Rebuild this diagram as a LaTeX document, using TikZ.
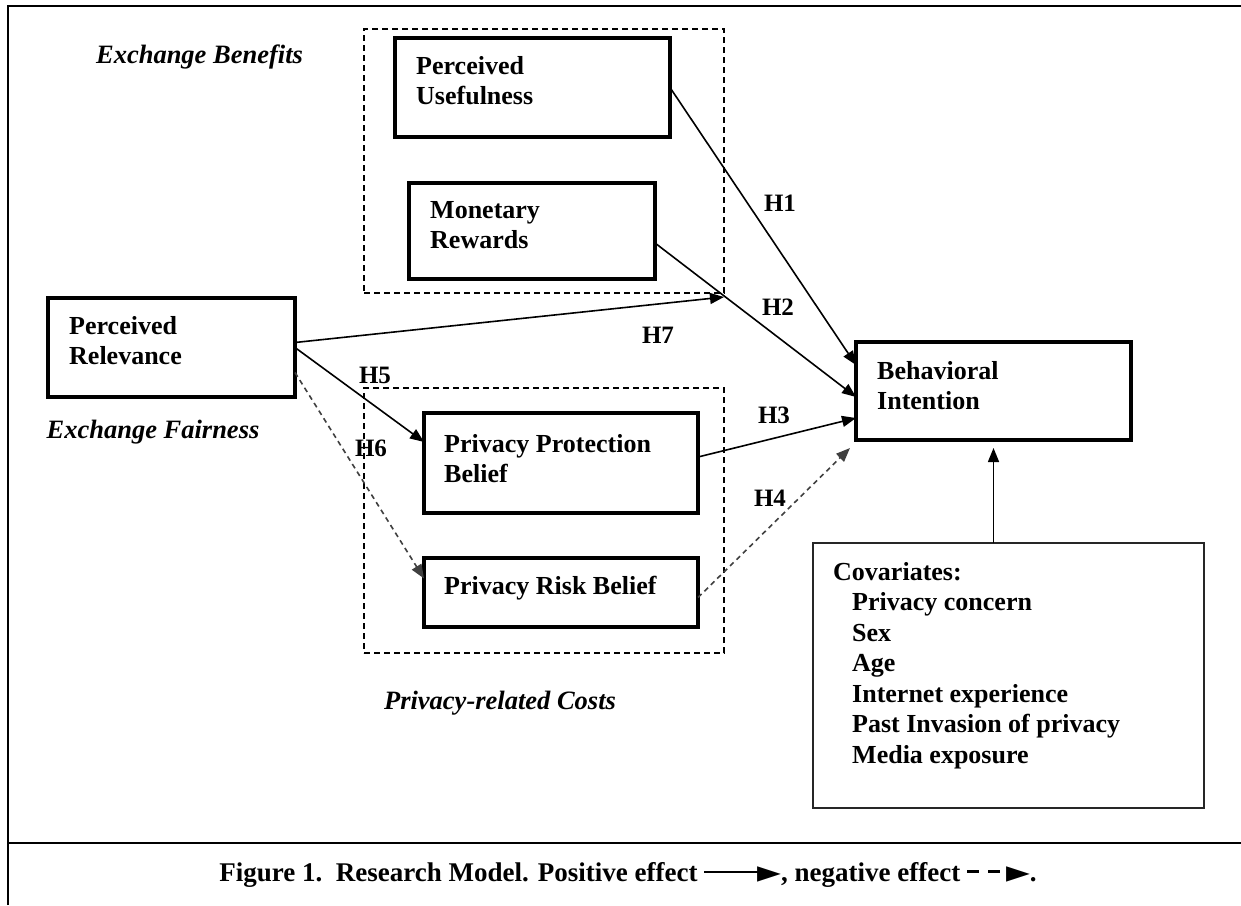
\documentclass[tikz,border=0pt]{standalone}
\usepackage{fontspec}
\setmainfont{Liberation Serif}
\newfontfamily\symfont{DejaVu Sans}
\usetikzlibrary{arrows.meta,positioning}

% legend marks for the caption
\newcommand{\legendtri}{\raisebox{-0.04em}{\symfont\fontsize{31}{31}\selectfont ►}}
\newcommand{\legendpos}{\rule[0.3em]{58pt}{2.6pt}\kern-5pt\legendtri}
\newcommand{\legendneg}{\rule[0.3em]{12pt}{3.2pt}\hspace{9pt}\rule[0.3em]{12pt}{3.2pt}\hspace{6pt}\legendtri}

\begin{document}
\begin{tikzpicture}[
    x=1pt, y=-1pt,
    % Node styles
    conbox/.style={rectangle, draw=black, line width=3.2pt, inner sep=0pt, outer sep=0pt, anchor=north west},
    covbox/.style={rectangle, draw=black!85, line width=2pt, inner sep=0pt, outer sep=0pt, anchor=north west},
    groupbox/.style={rectangle, draw=black, line width=1.6pt, dash pattern=on 6pt off 4pt, inner sep=0pt, outer sep=0pt, anchor=north west},
    boxtext/.style={inner sep=0pt, align=left, font=\bfseries\fontsize{26}{30}\selectfont},
    hlabel/.style={inner sep=0pt, font=\bfseries\fontsize{25}{25}\selectfont},
    grouplabel/.style={inner sep=0pt, font=\bfseries\itshape\fontsize{26.5}{30}\selectfont},
    captiontext/.style={inner sep=0pt, font=\bfseries\fontsize{27}{30}\selectfont},
    % Effects
    poseffect/.style={line width=1.6pt, -{Triangle[length=14pt, width=11pt]}, draw=black},
    negeffect/.style={line width=1.6pt, dash pattern=on 5pt off 4pt, -{Triangle[length=14pt, width=11pt]}, draw=black!75},
    frameline/.style={line width=2.8pt, draw=black}
]

    \fill[white] (0,0) rectangle (1241,905);
    \useasboundingbox (0,0) rectangle (1241,905);

    % =========================================================================
    % 1. FRAME AND CAPTION
    % =========================================================================
    \draw[frameline] (8,905) -- (8,6) -- (1241,6);
    \draw[frameline] (8,843) -- (1241,843);

    \node[captiontext] (caption) at (628,875)
        {Figure 1.\ \ Research Model. Positive effect \legendpos, negative effect \legendneg.};

    % =========================================================================
    % 2. GROUPS (dashed)
    % =========================================================================
    \node[groupbox, minimum width=360pt, minimum height=264pt] (eb) at (364,29) {};
    \node[groupbox, minimum width=360pt, minimum height=265pt] (pc) at (364,388) {};

    \node[grouplabel] (ebl) at (199.5,57) {Exchange Benefits};
    \node[grouplabel] (efl) at (153,432) {Exchange Fairness};
    \node[grouplabel] (pcl) at (500,703) {Privacy-related Costs};

    % =========================================================================
    % 3. CONSTRUCTS
    % =========================================================================
    \node[conbox, minimum width=275pt, minimum height=99pt] (pu) at (395,38) {};
    \node[boxtext, below right=18pt and 21pt of pu.north west] (put) {Perceived\\Usefulness};

    \node[conbox, minimum width=246pt, minimum height=96pt] (mr) at (409,183) {};
    \node[boxtext, below right=18pt and 21pt of mr.north west] (mrt) {Monetary\\Rewards};

    \node[conbox, minimum width=247pt, minimum height=99pt] (pr) at (48,298) {};
    \node[boxtext, below right=18pt and 21pt of pr.north west] (prt) {Perceived\\Relevance};

    \node[conbox, minimum width=274pt, minimum height=100pt] (ppb) at (424,413) {};
    \node[boxtext, below right=21pt and 20pt of ppb.north west] (ppbt) {Privacy Protection\\Belief};

    \node[conbox, minimum width=274pt, minimum height=69pt] (prb) at (424,558) {};
    \node[boxtext, below right=18pt and 20pt of prb.north west] (prbt) {Privacy Risk Belief};

    \node[conbox, minimum width=275pt, minimum height=98pt] (bi) at (856,342) {};
    \node[boxtext, below right=19pt and 21pt of bi.north west] (bit) {Behavioral\\Intention};

    \node[covbox, minimum width=391pt, minimum height=265pt] (cov) at (813,543) {};
    \node[boxtext, font=\bfseries\fontsize{26}{30.5}\selectfont, below right=19pt and 20pt of cov.north west] (covt)
        {Covariates:\\
         \hspace*{19pt}Privacy concern\\
         \hspace*{19pt}Sex\\
         \hspace*{19pt}Age\\
         \hspace*{19pt}Internet experience\\
         \hspace*{19pt}Past Invasion of privacy\\
         \hspace*{19pt}Media exposure};

    % =========================================================================
    % 4. HYPOTHESES
    % =========================================================================
    \draw[poseffect] (pu.east) -- ([yshift=-23pt]bi.north west);
    \draw[poseffect] ([yshift=-12pt]mr.east) -- ([yshift=-6pt]bi.west);
    \draw[poseffect] ([yshift=6pt]ppb.east) -- ([yshift=-27pt]bi.west);
    \draw[negeffect] ([yshift=-5pt]prb.east) -- ([xshift=-6pt,yshift=-8pt]bi.south west);
    \draw[poseffect] (pr.east) -- ([yshift=21pt]ppb.west);
    \draw[negeffect] ([yshift=-25pt]pr.east) -- ([yshift=14pt]prb.west);
    \draw[poseffect] ([yshift=5pt]pr.east) -- ([yshift=-4pt]eb.south east);
    \draw[poseffect, shorten >=8pt] (cov.north -| bi.south) -- (bi.south);

    \node[hlabel] (h1) at (780,203) {H1};
    \node[hlabel] (h2) at (778,307) {H2};
    \node[hlabel] (h3) at (774,415) {H3};
    \node[hlabel] (h4) at (770,498) {H4};
    \node[hlabel] (h5) at (375,375) {H5};
    \node[hlabel] (h6) at (371,448) {H6};
    \node[hlabel] (h7) at (658,335) {H7};

\end{tikzpicture}
\end{document}
